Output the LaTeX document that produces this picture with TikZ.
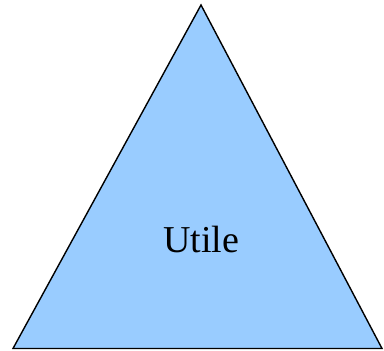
\documentclass[tikz,border=0pt]{standalone}
\usepackage{fontspec}
\setmainfont{Liberation Serif}
\usepackage{tikz}
\definecolor{lightsky}{HTML}{99CCFF}

\begin{document}
\begin{tikzpicture}[x=1pt,y=-1pt,semithick]

  \useasboundingbox (0,0) rectangle (384,351);

  \coordinate (top) at (201,5);
  \coordinate (bl) at (13,348.5);
  \coordinate (br) at (382,348.5);
  \filldraw[fill=lightsky,draw=black,line width=1.4pt,line join=miter] (top) -- (br) -- (bl) -- cycle;

  \node[anchor=base,font=\fontsize{38}{40}\selectfont,inner sep=0pt] (label) at (201,252) {Utile};

\end{tikzpicture}
\end{document}
